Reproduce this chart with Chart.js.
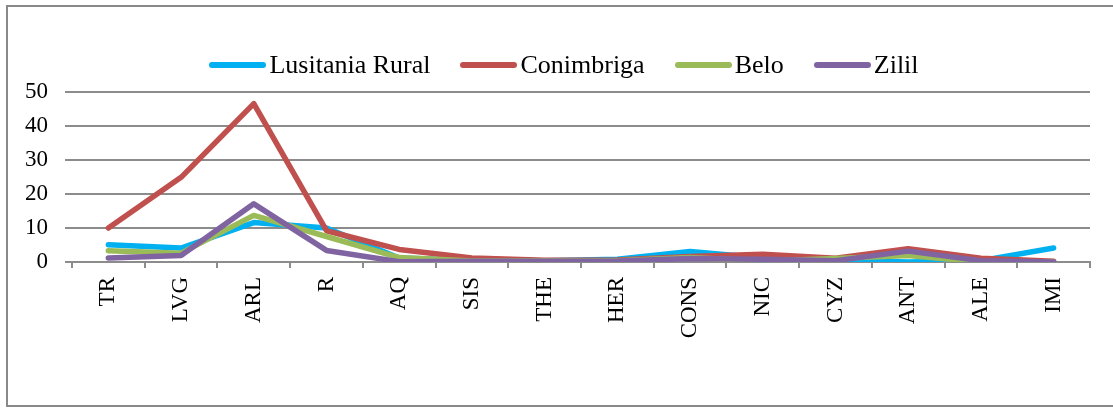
<!DOCTYPE html>
<html>
<head>
<meta charset="utf-8">
<script src="https://cdn.jsdelivr.net/npm/chart.js@4.4.0/dist/chart.umd.min.js"></script>
<style>
  html, body { margin: 0; padding: 0; background: #fff; }
  #wrap { position: relative; width: 1113px; height: 408px; }
  #legend {
    position: absolute; top: 50px; left: 38px; right: 23px;
    display: flex; justify-content: center; align-items: center;
    font-family: "Liberation Serif", "DejaVu Serif", serif; font-size: 26px; color: #000;
  }
  .legend-item { display: flex; align-items: center; margin: 0 15px; white-space: nowrap; }
  .legend-line { width: 57px; height: 6px; border-radius: 3px; margin-right: 3px; }
</style>
</head>
<body>
<div id="wrap">
  <canvas id="chart" width="1113" height="408"></canvas>
  <div id="legend"></div>
</div>
<script>
// Sites (x axis)
const sites = ['TR', 'LVG', 'ARL', 'R', 'AQ', 'SIS', 'THE', 'HER', 'CONS', 'NIC', 'CYZ', 'ANT', 'ALE', 'IMI'];

// Percentage per site for each assemblage
const lusitaniaRural = [5.1, 4.1, 11.6, 10, 1.2, 0.5, 0.4, 0.8, 3.1, 1.2, 0.6, 0, 0.4, 4.1];
const conimbriga = [10, 24.9, 46.6, 9.2, 3.7, 1.2, 0.5, 0.6, 1.6, 2.3, 1.1, 3.9, 1.1, 0.2];
const belo = [3.3, 2.6, 13.7, 7.5, 1.3, 0.3, 0.3, 0.4, 1.3, 0.2, 1.0, 1.9, 0, 0];
const zilil = [1.2, 1.9, 17.1, 3.4, 0.1, 0.2, 0.2, 0.3, 1.0, 0.8, 0.4, 3.2, 0.4, 0];

const yTicks = [0, 10, 20, 30, 40, 50];

const FONT = '"Liberation Serif", "DejaVu Serif", serif';
const GRID = '#8c8c8c';

function series(label, data, color, order) {
  return {
    label, data, order,
    borderColor: color, backgroundColor: color,
    borderWidth: 5.5, borderCapStyle: 'round', borderJoinStyle: 'round',
    pointRadius: 0, tension: 0, fill: false
  };
}

// outer frame around the whole chart
const framePlugin = {
  id: 'frame',
  beforeDraw(chart) {
    const ctx = chart.ctx;
    ctx.save();
    ctx.strokeStyle = '#898989';
    ctx.lineWidth = 2;
    ctx.strokeRect(7, 6, 1130, 400);
    ctx.restore();
  }
};

const chart = new Chart(document.getElementById('chart').getContext('2d'), {
  type: 'line',
  data: {
    labels: sites,
    datasets: [
      series('Lusitania Rural', lusitaniaRural, '#00b0f0', 3),
      series('Conimbriga', conimbriga, '#c0504d', 2),
      series('Belo', belo, '#9bbb59', 1),
      series('Zilil', zilil, '#8064a2', 0)
    ]
  },
  options: {
    responsive: false,
    animation: false,
    layout: { padding: { top: 92, right: 23, bottom: 0, left: 0 } },
    plugins: { legend: { display: false }, tooltip: { enabled: false } },
    scales: {
      x: {
        offset: true,
        grid: { offset: true, drawOnChartArea: false, drawTicks: true, tickLength: 6, color: GRID, lineWidth: 2 },
        border: { display: true, color: GRID, width: 2 },
        ticks: { color: '#000', font: { family: FONT, size: 23 }, minRotation: 90, maxRotation: 90, padding: 9, autoSkip: false },
        afterFit(scale) { scale.height = 146; }
      },
      y: {
        min: 0, max: 50,
        afterBuildTicks(scale) { scale.ticks = yTicks.map(v => ({ value: v })); },
        grid: { color: GRID, lineWidth: 2, tickLength: 7 },
        border: { display: false },
        ticks: { color: '#000', font: { family: FONT, size: 23 }, padding: 17 },
        afterFit(scale) { scale.width = 72; }
      }
    }
  },
  plugins: [framePlugin]
});

// legend built from the chart's datasets
const legendEl = document.getElementById('legend');
chart.data.datasets.forEach(ds => {
  const item = document.createElement('div');
  item.className = 'legend-item';
  const line = document.createElement('span');
  line.className = 'legend-line';
  line.style.background = ds.borderColor;
  const text = document.createElement('span');
  text.textContent = ds.label;
  item.appendChild(line);
  item.appendChild(text);
  legendEl.appendChild(item);
});
</script>
</body>
</html>
